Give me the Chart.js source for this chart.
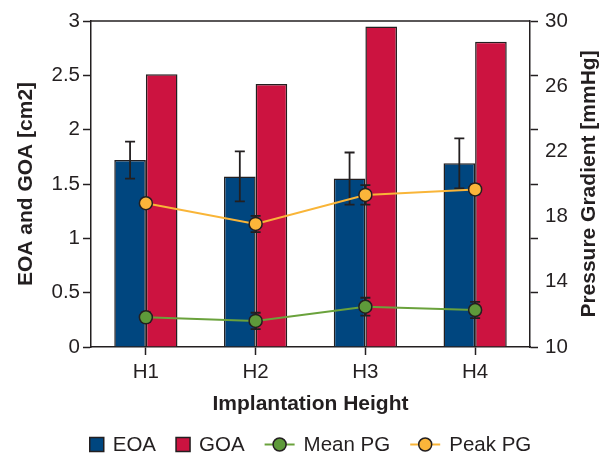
<!DOCTYPE html>
<html>
<head>
<meta charset="utf-8">
<script src="https://cdn.jsdelivr.net/npm/chart.js@4.4.1/dist/chart.umd.min.js"></script>
<style>
  html, body { margin: 0; padding: 0; background: #fff; }
  #wrap { width: 610px; height: 453px; }
</style>
</head>
<body>
<div id="wrap"><canvas id="chartKatup" width="610" height="453"></canvas></div>
<script>
// data
const heights = ["H1", "H2", "H3", "H4"];
const eoa = [1.72, 1.57, 1.55, 1.69];
const eoaSd = [0.17, 0.23, 0.24, 0.23];
const goa = [2.51, 2.42, 2.95, 2.81];
const meanPg = [11.82, 11.6, 12.47, 12.27];
const meanPgSd = [0.3, 0.5, 0.55, 0.5];
const peakPg = [18.82, 17.55, 19.33, 19.67];
const peakPgSd = [0.2, 0.5, 0.6, 0.3];
const leftTicks = [0, 0.5, 1, 1.5, 2, 2.5, 3];
const rightTicks = [10, 14, 18, 22, 26, 30];

const dark = "#231f20";
const fontFam = "'Liberation Sans', Arial, Helvetica, sans-serif";
Chart.defaults.font.family = fontFam;
Chart.defaults.color = dark;

// tick marks on the right axis sit at the same heights as the left ones
const rightMarks = leftTicks.map(v => 10 + v / 3 * 20);
const near = (a, list) => list.some(b => Math.abs(a - b) < 1e-6);

const errMap = { 0: eoaSd, 2: meanPgSd, 3: peakPgSd };

function drawErr(ctx, x, yTop, yBot, cap) {
    ctx.beginPath();
    ctx.moveTo(x, yTop); ctx.lineTo(x, yBot);
    ctx.moveTo(x - cap, yTop); ctx.lineTo(x + cap, yTop);
    ctx.moveTo(x - cap, yBot); ctx.lineTo(x + cap, yBot);
    ctx.stroke();
}

function paintErr(chart, idx) {
    const meta = chart.getDatasetMeta(idx);
    const ds = chart.data.datasets[idx];
    const scale = chart.scales[meta.yAxisID];
    const sd = errMap[idx];
    const ctx = chart.ctx;
    ctx.save();
    ctx.strokeStyle = dark;
    ctx.lineWidth = 1.8;
    meta.data.forEach((el, i) => {
        const v = ds.data[i];
        drawErr(ctx, el.x, scale.getPixelForValue(v + sd[i]), scale.getPixelForValue(v - sd[i]), 5);
    });
    ctx.restore();
}

const errorBars = {
    id: "errorBars",
    afterDatasetDraw(chart, args) {
        if (args.index === 0) paintErr(chart, 0);
    },
    beforeDatasetDraw(chart, args) {
        if (args.index === 2 || args.index === 3) paintErr(chart, args.index);
    }
};

// top frame line, right title (reads bottom-to-top) and custom legend
const extras = {
    id: "extras",
    afterDraw(chart) {
        const ctx = chart.ctx;
        const a = chart.chartArea;
        ctx.save();
        ctx.strokeStyle = dark;
        ctx.lineWidth = 1.5;
        ctx.beginPath();
        ctx.moveTo(a.left, a.top);
        ctx.lineTo(a.right, a.top);
        ctx.stroke();

        const y1 = chart.scales.y1;
        ctx.font = "bold 21px " + fontFam;
        ctx.fillStyle = dark;
        ctx.textAlign = "center";
        ctx.textBaseline = "middle";
        ctx.translate(y1.right - 21, (a.top + a.bottom) / 2);
        ctx.rotate(-Math.PI / 2);
        ctx.fillText("Pressure Gradient [mmHg]", 0, 0);
        ctx.restore();

        // legend
        ctx.save();
        ctx.font = "20.5px " + fontFam;
        ctx.textBaseline = "middle";
        ctx.textAlign = "left";
        const items = chart.data.datasets.map(ds => ({
            label: ds.label,
            kind: ds.type === "line" ? "line" : "box",
            fill: ds.type === "line" ? ds.pointBackgroundColor : ds.backgroundColor,
            stroke: ds.borderColor
        }));
        const symW = it => it.kind === "box" ? 14 : 30;
        const gapSym = 9, gapItem = 20;
        let total = 0;
        items.forEach((it, i) => {
            it.w = symW(it) + gapSym + ctx.measureText(it.label).width;
            total += it.w + (i ? gapItem : 0);
        });
        let x = (a.left + a.right) / 2 - total / 2;
        const y = 444.5;
        items.forEach(it => {
            if (it.kind === "box") {
                ctx.fillStyle = it.fill;
                ctx.fillRect(x, y - 7, 14, 14);
                ctx.strokeStyle = dark;
                ctx.lineWidth = 1.5;
                ctx.strokeRect(x, y - 7, 14, 14);
            } else {
                ctx.strokeStyle = it.stroke;
                ctx.lineWidth = 2;
                ctx.beginPath();
                ctx.moveTo(x, y); ctx.lineTo(x + 30, y);
                ctx.stroke();
                ctx.beginPath();
                ctx.arc(x + 15, y, 6.5, 0, Math.PI * 2);
                ctx.fillStyle = it.fill;
                ctx.fill();
                ctx.strokeStyle = dark;
                ctx.lineWidth = 1.5;
                ctx.stroke();
            }
            ctx.fillStyle = dark;
            ctx.fillText(it.label, x + symW(it) + gapSym, y + 1);
            x += it.w + gapItem;
        });
        ctx.restore();
    }
};

const ctx = document.getElementById("chartKatup").getContext("2d");
new Chart(ctx, {
    type: "bar",
    data: {
        labels: heights,
        datasets: [
            {
                label: "EOA",
                data: eoa,
                backgroundColor: "#00467f",
                borderColor: dark,
                borderWidth: 1.5,
                yAxisID: "y",
                order: 1,
                categoryPercentage: 0.576,
                barPercentage: 1.0
            },
            {
                label: "GOA",
                data: goa,
                backgroundColor: "#cc1340",
                borderColor: dark,
                borderWidth: 1.5,
                yAxisID: "y",
                order: 1,
                categoryPercentage: 0.576,
                barPercentage: 1.0
            },
            {
                type: "line",
                label: "Mean PG",
                data: meanPg,
                borderColor: "#6aa23c",
                borderWidth: 2,
                pointBackgroundColor: "#5e9a3a",
                pointBorderColor: dark,
                pointBorderWidth: 1.5,
                pointRadius: 6.5,
                yAxisID: "y1",
                order: 0
            },
            {
                type: "line",
                label: "Peak PG",
                data: peakPg,
                borderColor: "#f9b538",
                borderWidth: 2,
                pointBackgroundColor: "#fbb53a",
                pointBorderColor: dark,
                pointBorderWidth: 1.5,
                pointRadius: 6.5,
                yAxisID: "y1",
                order: 0
            }
        ]
    },
    options: {
        responsive: false,
        animation: false,
        layout: { padding: { top: 21, bottom: 34, left: 0, right: 0 } },
        plugins: {
            legend: { display: false },
            tooltip: { enabled: false }
        },
        scales: {
            x: {
                offset: true,
                afterFit: s => { s.height = 72; },
                grid: { drawOnChartArea: false, offset: false, tickLength: 8, tickColor: dark, tickWidth: 1.5 },
                border: { color: dark, width: 1.5 },
                ticks: { font: { size: 20.5 }, padding: 5 },
                title: { display: true, text: "Implantation Height", font: { size: 21, weight: "bold" }, padding: { top: 0, bottom: 2 } }
            },
            y: {
                position: "left",
                min: 0,
                max: 3,
                afterFit: s => { s.width = 91; },
                afterBuildTicks: axis => { axis.ticks = leftTicks.map(v => ({ value: v })); },
                grid: { drawOnChartArea: false, tickLength: 8, tickColor: dark, tickWidth: 1.5 },
                border: { color: dark, width: 1.5 },
                ticks: { font: { size: 20.5 }, padding: 3, callback: v => String(v) },
                title: { display: true, text: "EOA and GOA [cm2]", font: { size: 21, weight: "bold" }, padding: { top: 14, bottom: 0 } }
            },
            y1: {
                position: "right",
                min: 10,
                max: 30,
                afterFit: s => { s.width = 80; },
                afterBuildTicks: axis => {
                    const all = rightMarks.concat(rightTicks.filter(v => !near(v, rightMarks)));
                    all.sort((p, q) => p - q);
                    axis.ticks = all.map(v => ({ value: v }));
                },
                grid: {
                    drawOnChartArea: false,
                    tickLength: 8,
                    tickWidth: 1.5,
                    tickColor: c => (c.tick && near(c.tick.value, rightMarks)) ? dark : "rgba(0,0,0,0)"
                },
                border: { color: dark, width: 1.5 },
                ticks: {
                    font: { size: 20.5 },
                    padding: 7,
                    autoSkip: false,
                    callback: v => near(v, rightTicks) ? String(Math.round(v)) : ""
                },
                title: { display: false, text: "Pressure Gradient [mmHg]" }
            }
        }
    },
    plugins: [errorBars, extras]
});
</script>
</body>
</html>
